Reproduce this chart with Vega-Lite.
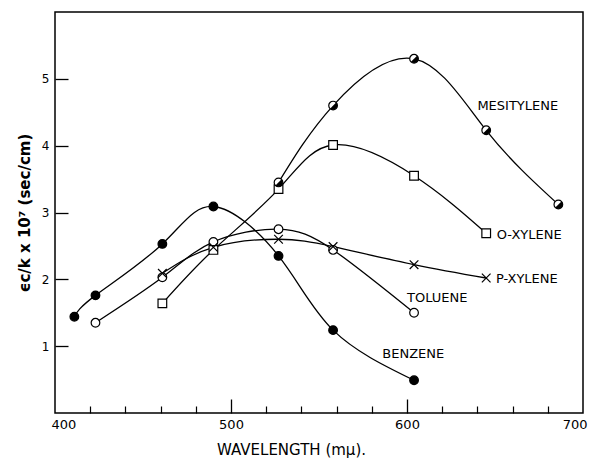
{
  "$schema": "https://vega.github.io/schema/vega-lite/v6.json",
  "width": 528,
  "height": 401,
  "autosize": {"type": "none"},
  "padding": {"left": 55, "top": 12, "right": 8, "bottom": 48},
  "background": "white",
  "config": {
    "view": {"stroke": "black", "strokeWidth": 1.5},
    "font": "DejaVu Sans",
    "axis": {"tickColor": "black", "labelColor": "black", "titleColor": "black", "grid": false, "domain": false}
  },
  "datasets": {
    "pts": [
      {"series": "Benzene", "wl": 411, "v": 1.44},
      {"series": "Benzene", "wl": 423, "v": 1.76},
      {"series": "Benzene", "wl": 461, "v": 2.53},
      {"series": "Benzene", "wl": 490, "v": 3.09},
      {"series": "Benzene", "wl": 527, "v": 2.35},
      {"series": "Benzene", "wl": 558, "v": 1.24},
      {"series": "Benzene", "wl": 604, "v": 0.49},
      {"series": "Toluene", "wl": 423, "v": 1.35},
      {"series": "Toluene", "wl": 461, "v": 2.03},
      {"series": "Toluene", "wl": 490, "v": 2.56},
      {"series": "Toluene", "wl": 527, "v": 2.75},
      {"series": "Toluene", "wl": 558, "v": 2.44},
      {"series": "Toluene", "wl": 604, "v": 1.5},
      {"series": "O-Xylene", "wl": 461, "v": 1.64},
      {"series": "O-Xylene", "wl": 490, "v": 2.44},
      {"series": "O-Xylene", "wl": 527, "v": 3.35},
      {"series": "O-Xylene", "wl": 558, "v": 4.01},
      {"series": "O-Xylene", "wl": 604, "v": 3.55},
      {"series": "O-Xylene", "wl": 645, "v": 2.69},
      {"series": "P-Xylene", "wl": 461, "v": 2.09},
      {"series": "P-Xylene", "wl": 490, "v": 2.48},
      {"series": "P-Xylene", "wl": 527, "v": 2.6},
      {"series": "P-Xylene", "wl": 558, "v": 2.49},
      {"series": "P-Xylene", "wl": 604, "v": 2.22},
      {"series": "P-Xylene", "wl": 645, "v": 2.02},
      {"series": "Mesitylene", "wl": 527, "v": 3.45},
      {"series": "Mesitylene", "wl": 558, "v": 4.6},
      {"series": "Mesitylene", "wl": 604, "v": 5.3},
      {"series": "Mesitylene", "wl": 645, "v": 4.23},
      {"series": "Mesitylene", "wl": 686, "v": 3.12}
    ],
    "labels": [
      {"t": "MESITYLENE", "wl": 640, "v": 4.59},
      {"t": "O-XYLENE", "wl": 651, "v": 2.67},
      {"t": "P-XYLENE", "wl": 650.5, "v": 2.0},
      {"t": "TOLUENE", "wl": 600, "v": 1.72},
      {"t": "BENZENE", "wl": 586, "v": 0.88}
    ]
  },
  "resolve": {"axis": {"x": "independent", "y": "independent"}},
  "layer": [
    {
      "data": {"name": "pts"},
      "mark": {"type": "line", "interpolate": "natural", "color": "black", "strokeWidth": 1.3},
      "encoding": {
        "x": {
          "field": "wl", "type": "quantitative",
          "scale": {"domain": [400, 700], "nice": false, "zero": false},
          "axis": {
            "orient": "bottom", "values": [400, 500, 600, 700], "ticks": false,
            "labelFontSize": 13, "labelPadding": 5, "labelFlush": true, "labelFlushOffset": 4,
            "title": "WAVELENGTH   (mμ).", "titleFontSize": 15, "titleFontWeight": "normal", "titlePadding": 11,
            "titleX": 236
          }
        },
        "y": {
          "field": "v", "type": "quantitative",
          "scale": {"domain": [0, 6], "nice": false, "zero": false},
          "axis": {
            "orient": "left", "values": [1, 2, 3, 4, 5], "ticks": false,
            "labelFontSize": 12, "labelPadding": 6,
            "title": "ϵc/k  x  10⁷   (sec/cm)", "titleFontSize": 15, "titleFontWeight": "bold", "titlePadding": 9
          }
        },
        "detail": {"field": "series"}
      }
    },
    {
      "data": {"name": "pts"},
      "mark": {"type": "point", "stroke": "black", "strokeWidth": 1.2, "opacity": 1},
      "encoding": {
        "x": {
          "field": "wl", "type": "quantitative",
          "axis": {"orient": "bottom", "values": [500, 600], "tickSize": -14, "tickWidth": 1.3, "labels": false, "title": null}
        },
        "y": {
          "field": "v", "type": "quantitative",
          "axis": {"orient": "left", "values": [1, 2, 3, 4, 5], "tickSize": -13, "tickWidth": 1.3, "labels": false, "title": null}
        },
        "shape": {
          "field": "series", "type": "nominal", "legend": null,
          "scale": {"domain": ["Benzene", "Toluene", "O-Xylene", "P-Xylene", "Mesitylene"],
                    "range": ["circle", "circle", "square", "M-1,-1L1,1M1,-1L-1,1", "circle"]}
        },
        "fill": {
          "field": "series", "type": "nominal", "legend": null,
          "scale": {"domain": ["Benzene", "Toluene", "O-Xylene", "P-Xylene", "Mesitylene"],
                    "range": ["black", "white", "white", "transparent", "white"]}
        },
        "size": {
          "field": "series", "type": "nominal", "legend": null,
          "scale": {"domain": ["Benzene", "Toluene", "O-Xylene", "P-Xylene", "Mesitylene"],
                    "range": [75, 75, 64, 36, 75]}
        }
      }
    },
    {
      "data": {"name": "pts"},
      "transform": [{"filter": "datum.series === 'Mesitylene'"}],
      "mark": {"type": "point", "shape": "M0.707,-0.707A1,1 0 0,1 -0.707,0.707Z", "filled": true, "fill": "black", "strokeWidth": 0, "size": 75, "opacity": 1},
      "encoding": {
        "x": {
          "field": "wl", "type": "quantitative",
          "axis": {"orient": "bottom", "values": [420, 440, 460, 480, 520, 540, 560, 580, 620, 640, 660, 680], "tickSize": -7, "tickWidth": 1.2, "labels": false, "title": null}
        },
        "y": {"field": "v", "type": "quantitative", "axis": null}
      }
    },
    {
      "data": {"name": "labels"},
      "mark": {"type": "text", "align": "left", "baseline": "middle", "fontSize": 13, "color": "black"},
      "encoding": {
        "x": {"field": "wl", "type": "quantitative", "axis": null},
        "y": {"field": "v", "type": "quantitative", "axis": null},
        "text": {"field": "t"}
      }
    }
  ]
}
